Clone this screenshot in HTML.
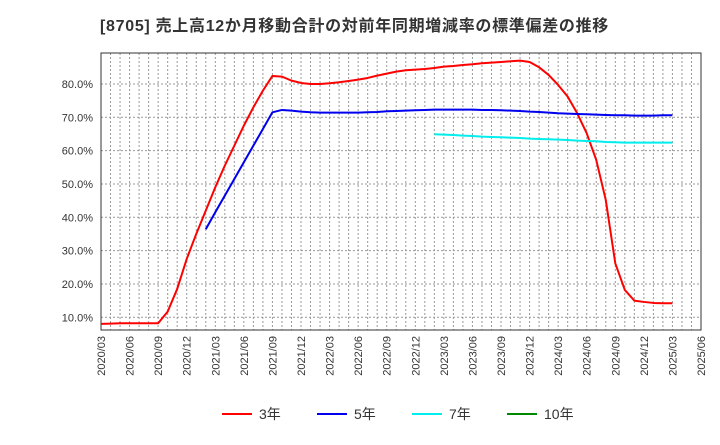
<!DOCTYPE html>
<html><head><meta charset="utf-8"><style>
body{margin:0;background:#fff;font-family:"Liberation Sans","Noto Sans CJK JP",sans-serif;}
</style></head><body>
<svg id="c" width="720" height="440" xmlns="http://www.w3.org/2000/svg">
<text x="100" y="31" font-size="16" letter-spacing="0.7" font-weight="bold" fill="#333" font-family="Liberation Sans,Noto Sans CJK JP,sans-serif">[8705]  売上高12か月移動合計の対前年同期増減率の標準偏差の推移</text>
<g id="grid"></g><g id="axes"></g><g id="series"></g><g id="legend"></g>
</svg>
<script>
const xLabels=["2020/03","2020/06","2020/09","2020/12","2021/03","2021/06","2021/09","2021/12","2022/03","2022/06","2022/09","2022/12","2023/03","2023/06","2023/09","2023/12","2024/03","2024/06","2024/09","2024/12","2025/03","2025/06"];
const yTicks=[10,20,30,40,50,60,70,80];
const s3Start=0;
const s3=[8.0,8.1,8.2,8.2,8.2,8.2,8.2,11.7,18.5,27.5,35,42,49,55.5,61.5,67.5,73,78,82.4,82.2,81,80.3,80,80,80.2,80.5,80.9,81.3,81.8,82.5,83.1,83.7,84.1,84.3,84.5,84.8,85.2,85.4,85.7,85.9,86.2,86.4,86.6,86.8,87,86.6,85,82.7,79.7,76.2,71.2,65.2,57.2,45.2,26.2,18.2,15,14.6,14.3,14.2,14.2];
const s5Start=11;
const s5=[36.4,41.5,46.5,51.5,56.5,61.5,66.5,71.5,72.2,72,71.7,71.5,71.4,71.4,71.4,71.4,71.4,71.5,71.6,71.8,71.9,72,72.1,72.2,72.3,72.3,72.3,72.3,72.3,72.2,72.2,72.1,72,71.9,71.7,71.6,71.4,71.2,71.1,71,70.9,70.8,70.7,70.6,70.6,70.5,70.5,70.5,70.6,70.6];
const s7Start=35;
const s7=[64.9,64.8,64.7,64.5,64.4,64.2,64.1,64,63.9,63.8,63.6,63.5,63.4,63.3,63.2,63,62.9,62.8,62.6,62.5,62.4,62.4,62.4,62.4,62.4,62.4];
const s10Start=0;
const s10=[];
const L=101,R=701,T=53,B=330,months=63;
const X=m=>L+m*(R-L)/months;
const Y=v=>350.6-v*3.333;
const ns="http://www.w3.org/2000/svg";
function mk(t,a,p){const e=document.createElementNS(ns,t);for(const k in a)e.setAttribute(k,a[k]);p.appendChild(e);return e;}
const grid=document.getElementById('grid'),axes=document.getElementById('axes'),ser=document.getElementById('series'),leg=document.getElementById('legend');
for(let m=1;m<months;m++){const l=mk('line',{x1:X(m),x2:X(m),y1:T,y2:B,stroke:'#999','stroke-dasharray':'2,2','stroke-width':1},grid);

}
yTicks.forEach(v=>{const l=mk('line',{x1:L,x2:R,y1:Y(v),y2:Y(v),stroke:'#999','stroke-dasharray':'2,2','stroke-width':1},grid);


const t=mk('text',{x:L-8,y:Y(v)+4,'text-anchor':'end','font-size':11,fill:'#333'},axes);t.textContent=v.toFixed(1)+'%';

});
xLabels.forEach((s,i)=>{const x=X(i*3);const t=mk('text',{transform:`translate(${x+4},336) rotate(-90)`,'text-anchor':'end','font-size':11,fill:'#333'},axes);t.textContent=s;

});
const fr=mk('rect',{x:L,y:T,width:R-L,height:B-T,fill:'none',stroke:'#333','stroke-width':1},axes);


function line(arr,start,color,name){if(!arr.length)return;const p=mk('polyline',{points:arr.map((v,i)=>X(start+i)+','+Y(v)).join(' '),fill:'none',stroke:color,'stroke-width':2,'stroke-linejoin':'round'},ser);

}
line(s3,s3Start,'#ff0000','series-3y');
line(s5,s5Start,'#0000ee','series-5y');
line(s7,s7Start,'#00eeee','series-7y');
line(s10,s10Start,'#008800','series-10y');
[['3年','#ff0000',222],['5年','#0000ee',317],['7年','#00eeee',412],['10年','#008800',507]].forEach(([n,c,x])=>{
const g=mk('g',{},leg);


mk('line',{x1:x,x2:x+30,y1:414,y2:414,stroke:c,'stroke-width':2},g);
const t=mk('text',{x:x+37,y:419,'font-size':14,fill:'#333'},g);t.textContent=n;});
</script>
</body></html>
